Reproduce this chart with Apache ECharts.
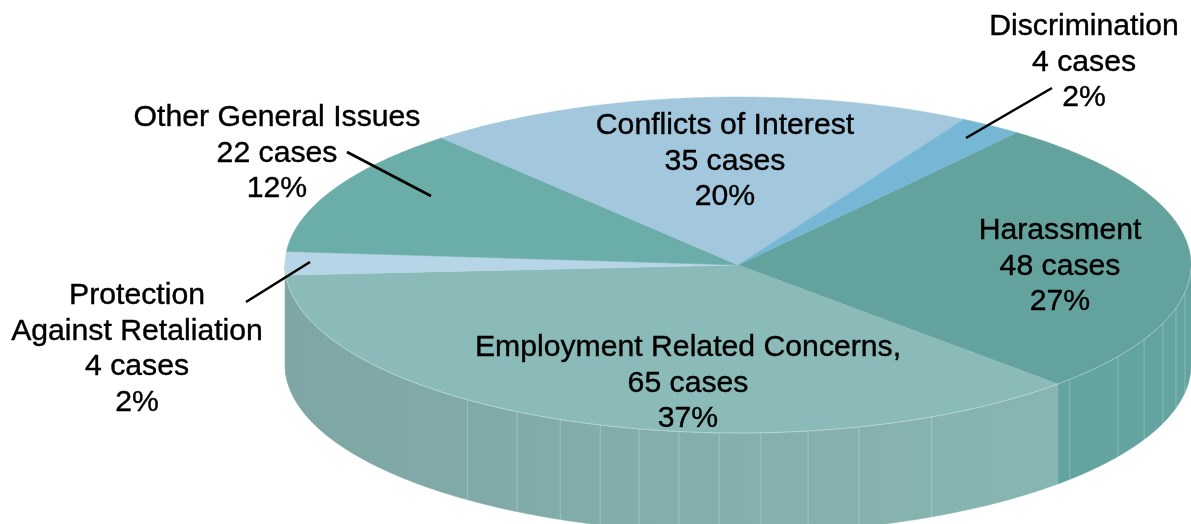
<!DOCTYPE html>
<html>
<head>
<meta charset="utf-8">
<style>html,body{margin:0;padding:0;background:#fff}#chart{width:1191px;height:524px}</style>
<script src="https://cdn.jsdelivr.net/npm/echarts@6/dist/echarts.min.js"></script>
</head>
<body>
<div id="chart"></div>
<script>
// ---- data ----
var categories = ['Harassment', 'Employment Related Concerns,', 'Protection\nAgainst Retaliation', 'Other General Issues', 'Conflicts of Interest', 'Discrimination'];
var caseCounts = [48, 65, 4, 22, 35, 4];
var percents = [27, 37, 2, 12, 20, 2];
var facetAngles = [9.4, 14.8, 20.3, 26.3, 33, 42.9, 64.7, 74.5, 81.1, 87.1, 92.4, 97.5, 102.6, 107.7, 113.1, 119.2, 126.7];

// ---- layout and style ----
var CX = 738, CY = 265, RX = 453, RY = 168, DEPTH = 100, START = -52;
var FONT = '30.2px "Liberation Sans", Arial, sans-serif', LINE_H = 35.4;
var topColors = ['#64A29E', '#8ABBB9', '#B6D5E6', '#6BADA8', '#A3C7DC', '#75B7D4'];
var wallColors = [
  '#63A3A0',
  new echarts.graphic.LinearGradient(286, 0, 1058, 0, [{offset: 0, color: '#7EA6A4'}, {offset: 1, color: '#87B6B2'}], true),
  '#7EA6A4', '#6BADA8', '#A3C7DC', '#75B7D4'
];
var labelPos = [[1060, 231], [688, 348], [137, 296], [277, 118], [725, 126], [1084, 27]];
var leaders = [null, null, [246, 302, 310, 262], [347, 152, 431, 196], null, [1052, 88, 966, 138]];

var total = caseCounts.reduce(function (a, b) { return a + b; }, 0);
function sliceSpan(i) {
  var a = START;
  for (var k = 0; k < i; k++) a += caseCounts[k] / total * 360;
  return [a, a + caseCounts[i] / total * 360];
}
function pt(deg, dy) {
  var r = deg * Math.PI / 180;
  return [CX + RX * Math.cos(r), CY + RY * Math.sin(r) + (dy || 0)];
}
function arc(a0, a1, dy) {
  var n = Math.max(2, Math.ceil(Math.abs(a1 - a0) * 2)), out = [];
  for (var i = 0; i <= n; i++) out.push(pt(a0 + (a1 - a0) * i / n, dy));
  return out;
}

var series = [
  { // side wall of the slices facing the viewer
    type: 'custom', coordinateSystem: 'none', z: 1, silent: true,
    data: caseCounts,
    renderItem: function (params) {
      var s = sliceSpan(params.dataIndex), a0 = Math.max(s[0], 0), a1 = Math.min(s[1], 180);
      if (a1 <= a0) return {type: 'group', children: []};
      return {type: 'polygon', shape: {points: arc(a0, a1, 0).concat(arc(a1, a0, DEPTH))},
        style: {fill: wallColors[params.dataIndex], stroke: wallColors[params.dataIndex], lineWidth: 0.5}};
    }
  },
  { // vertical facet seams on the wall
    type: 'custom', coordinateSystem: 'none', z: 2, silent: true,
    data: facetAngles,
    renderItem: function (params, api) {
      var a = api.value(0), p = pt(a), q = pt(a, DEPTH);
      return {type: 'line', shape: {x1: p[0], y1: p[1], x2: q[0], y2: q[1]},
        style: {stroke: 'rgba(255,255,255,0.25)', lineWidth: 1}};
    }
  },
  { // top face
    type: 'custom', coordinateSystem: 'none', z: 3, silent: true,
    data: caseCounts,
    renderItem: function (params) {
      var s = sliceSpan(params.dataIndex), c = topColors[params.dataIndex];
      return {type: 'polygon', shape: {points: [[CX, CY]].concat(arc(s[0], s[1], 0))},
        style: {fill: c, stroke: c, lineWidth: 0.5}};
    }
  },
  { // light rim along the front edge
    type: 'custom', coordinateSystem: 'none', z: 4, silent: true,
    data: [0],
    renderItem: function () {
      return {type: 'polyline', shape: {points: arc(1, 178, 0)},
        style: {fill: null, stroke: 'rgba(255,255,255,0.35)', lineWidth: 1}};
    }
  },
  { // leader lines and text
    type: 'custom', coordinateSystem: 'none', z: 5, silent: true,
    data: caseCounts,
    renderItem: function (params, api) {
      var i = params.dataIndex, kids = [];
      var l = leaders[i];
      if (l) kids.push({type: 'line', shape: {x1: l[0], y1: l[1], x2: l[2], y2: l[3]},
        style: {stroke: '#000', lineWidth: 2.6}});
      var lines = categories[i].split('\n').concat([api.value(0) + ' cases', percents[i] + '%']);
      lines.forEach(function (t, k) {
        kids.push({type: 'text', style: {text: t, x: labelPos[i][0], y: labelPos[i][1] + k * LINE_H,
          font: FONT, fill: '#000', stroke: '#000', lineWidth: 0.4, align: 'center', verticalAlign: 'middle'}});
      });
      return {type: 'group', children: kids};
    }
  }
];

var chart = echarts.init(document.getElementById('chart'), null, {renderer: 'canvas'});
chart.setOption({animation: false, backgroundColor: '#fff', series: series});
</script>
</body>
</html>
